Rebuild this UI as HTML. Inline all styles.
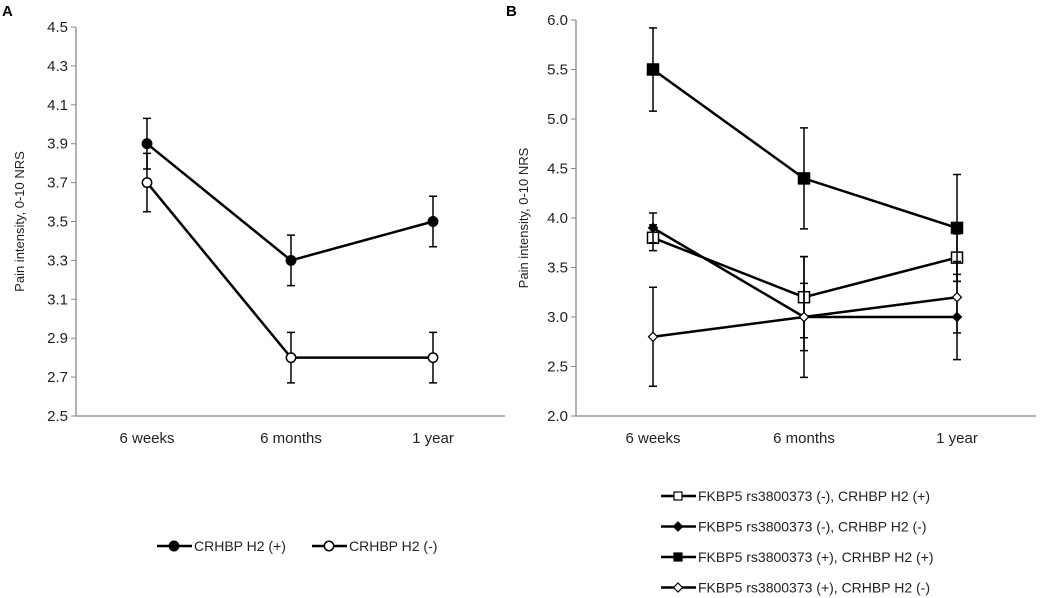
<!DOCTYPE html>
<html><head><meta charset="utf-8"><style>
body{margin:0;background:#fff;}
svg{display:block;font-family:"Liberation Sans",sans-serif;}
</style></head><body>
<svg id="c" width="1050" height="598" viewBox="0 0 1050 598" xmlns="http://www.w3.org/2000/svg">
<text x="2" y="16" font-size="15" font-weight="bold">A</text>
<text x="506" y="16" font-size="15" font-weight="bold">B</text>
</svg>
<script>
const categories=["6 weeks","6 months","1 year"];
const aTicks=["2.5","2.7","2.9","3.1","3.3","3.5","3.7","3.9","4.1","4.3","4.5"];
const aPos=[3.9,3.3,3.5];
const aPosErr=[0.13,0.13,0.13];
const aNeg=[3.7,2.8,2.8];
const aNegErr=[0.15,0.13,0.13];
const bTicks=["2.0","2.5","3.0","3.5","4.0","4.5","5.0","5.5","6.0"];
const bS1=[3.8,3.2,3.6];const bS1Err=[0.13,0.41,0.24];
const bS2=[3.9,3.0,3.0];const bS2Err=[0.15,0.34,0.43];
const bS3=[5.5,4.4,3.9];const bS3Err=[0.42,0.51,0.54];
const bS4=[2.8,3.0,3.2];const bS4Err=[0.5,0.61,0.36];
const legendA=["CRHBP H2 (+)","CRHBP H2 (-)"];
const legendB=["FKBP5 rs3800373 (-), CRHBP H2 (+)","FKBP5 rs3800373 (-), CRHBP H2 (-)","FKBP5 rs3800373 (+), CRHBP H2 (+)","FKBP5 rs3800373 (+), CRHBP H2 (-)"];

const svg=document.getElementById('c');const NS="http://www.w3.org/2000/svg";
function el(t,a,p){const e=document.createElementNS(NS,t);for(const k in a)e.setAttribute(k,a[k]);(p||svg).appendChild(e);return e;}

function marker(g,type,x,y){
  let e;
  if(type==='dot'||type==='odot'){e=el('circle',{cx:x,cy:y,r:4.7,fill:type==='dot'?'#000':'#fff',stroke:'#000','stroke-width':1.5},g);}
  else if(type==='sq'||type==='osq'){e=el('rect',{x:x-5.5,y:y-5.5,width:11,height:11,fill:type==='sq'?'#000':'#fff',stroke:'#000','stroke-width':1.5},g);}
  else {const d=4.5;e=el('polygon',{points:`${x},${y-d} ${x+d},${y} ${x},${y+d} ${x-d},${y}`,fill:type==='dia'?'#000':'#fff',stroke:'#000','stroke-width':1.2},g);}
  
  
}

function panel(o){
  const g=el('g',{});
  
  
  const ys2=v=>o.y1-(v-o.min)/(o.max-o.min)*(o.y1-o.y0);
  const xs=i=>o.xc[i];
  const ax=el('path',{d:`M${o.x0},${o.y0} V${o.y1} H${o.x1}`,stroke:'#888',fill:'none','stroke-width':1.3},g);
  
  
  o.ticks.forEach(t=>{const y=ys2(parseFloat(t));
    el('line',{x1:o.x0-5,x2:o.x0,y1:y,y2:y,stroke:'#888'},g);
    const tx=el('text',{x:o.x0-8,y:y+5,'font-size':15,'text-anchor':'end',fill:'#222'},g);tx.textContent=t;
    
    });
  categories.forEach((c,i)=>{const tx=el('text',{x:xs(i),y:o.y1+27,'font-size':15,'text-anchor':'middle',fill:'#222'},g);tx.textContent=c;
    
    });
  const yt=el('text',{transform:`translate(${o.tx},${(o.y0+o.y1)/2}) rotate(-90)`,'font-size':13,'text-anchor':'middle',fill:'#222'},g);
  yt.textContent='Pain intensity, 0-10 NRS';
  
  
  o.series.forEach(s=>{
    const sg=el('g',{},g);
    
    
    s.v.forEach((v,i)=>{const x=xs(i);
      el('path',{d:`M${x},${ys2(v-s.e[i])}V${ys2(v+s.e[i])}M${x-4},${ys2(v-s.e[i])}h8M${x-4},${ys2(v+s.e[i])}h8`,stroke:'#000','stroke-width':1.5,fill:'none'},sg);});
    el('polyline',{points:s.v.map((v,i)=>xs(i)+','+ys2(v)).join(' '),fill:'none',stroke:'#000','stroke-width':2.5},sg);
    s.v.forEach((v,i)=>marker(sg,s.m,xs(i),ys2(v)));
  });
}
panel({name:'panel-a',x0:76,x1:505,y0:27,y1:416,min:2.5,max:4.5,ticks:aTicks,xc:[147,291,433],tx:24,
  series:[{v:aPos,e:aPosErr,m:'dot'},{v:aNeg,e:aNegErr,m:'odot'}]});
panel({name:'panel-b',x0:576,x1:1036,y0:20,y1:416,min:2.0,max:6.0,ticks:bTicks,xc:[653,804,957],tx:528,
  series:[{v:bS1,e:bS1Err,m:'osq'},{v:bS2,e:bS2Err,m:'dia'},{v:bS3,e:bS3Err,m:'sq'},{v:bS4,e:bS4Err,m:'odia'}]});

function legend(x,y,label,m){
  const g=el('g',{});
  
  
  el('line',{x1:x,x2:x+35,y1:y,y2:y,stroke:'#000','stroke-width':2.5},g);
  if(m==='sq'||m==='osq'){el('rect',{x:x+13,y:y-4,width:8,height:8,fill:m==='sq'?'#000':'#fff',stroke:'#000','stroke-width':1.2},g);}
  else marker(g,m,x+17,y);
  const t=el('text',{x:x+37,y:y+5,'font-size':14,fill:'#222'},g);t.textContent=label;
}
legend(157,546,legendA[0],'dot');
legend(312,546,legendA[1],'odot');
const lm=['osq','dia','sq','odia'];
legendB.forEach((l,i)=>legend(661,496+i*30.5,l,lm[i]));
</script>
</body></html>
